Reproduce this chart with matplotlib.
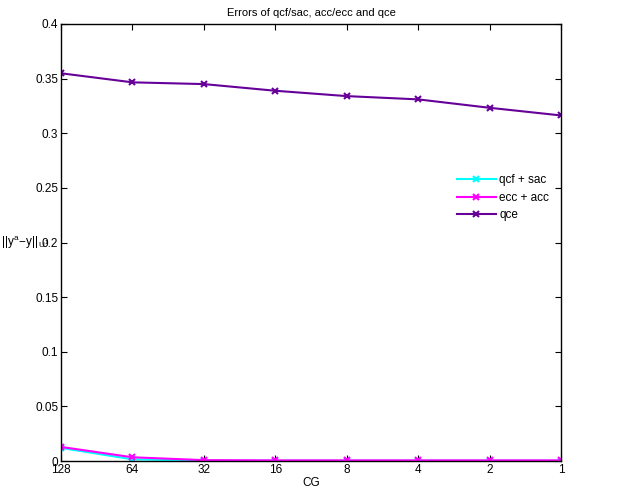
import matplotlib
matplotlib.use("Agg")
import matplotlib.pyplot as plt

plt.rcParams['font.family'] = ['Liberation Sans', 'DejaVu Sans']
plt.rcParams['mathtext.fontset'] = 'custom'
plt.rcParams['mathtext.rm'] = 'Liberation Sans'
plt.rcParams['mathtext.it'] = 'Liberation Sans'

cg_labels = ['128', '64', '32', '16', '8', '4', '2', '1']
qcf_sac = [0.0120, 0.0015, 0.0003, 0.0002, 0.0002, 0.0002, 0.0002, 0.0002]
ecc_acc = [0.0129, 0.0034, 0.0008, 0.0006, 0.0006, 0.0006, 0.0006, 0.0006]
qce = [0.3549, 0.3466, 0.3450, 0.3389, 0.3340, 0.3310, 0.3233, 0.3163]

fig = plt.figure(figsize=(6.21, 4.93), dpi=100)
ax = fig.add_axes([61/621, 1-461/493, 500/621, 437/493])
x = list(range(len(cg_labels)))
kw = dict(marker='x', markersize=4, markeredgewidth=1.5, linewidth=1.5)
ax.plot(x, qcf_sac, color='#00FFFF', label='qcf + sac', **kw)
ax.plot(x, ecc_acc, color='#FF00FF', label='ecc + acc', **kw)
ax.plot(x, qce, color='#660099', label='qce', **kw)

ax.set_xlim(0, 7)
ax.set_ylim(0, 0.4)
ax.set_xticks(x)
ax.set_xticklabels(cg_labels)
ax.set_yticks([0, 0.05, 0.1, 0.15, 0.2, 0.25, 0.3, 0.35, 0.4])
ax.set_yticklabels(['0', '0.05', '0.1', '0.15', '0.2', '0.25', '0.3', '0.35', '0.4'])
ax.tick_params(direction='in', top=True, right=True, labelsize=8.5, length=4, width=0.8, pad=2)
for s in ax.spines.values():
    s.set_linewidth(1.0)
ax.set_xlabel('CG', fontsize=8.5, labelpad=1)
ax.set_title('Errors of qcf/sac, acc/ecc and qce', fontsize=8, pad=6)
fig.text(1/621, 1-243/493, r'$||y^{a}\!-\!y||_{U^1}$', fontsize=8.5, ha='left', va='center')
ax.legend(loc='upper left', bbox_to_anchor=(0.77, 0.68), frameon=False, fontsize=8.5,
          handlelength=3.3, labelspacing=0.45, handletextpad=0.3)
fig.savefig('out.png', dpi=100)
